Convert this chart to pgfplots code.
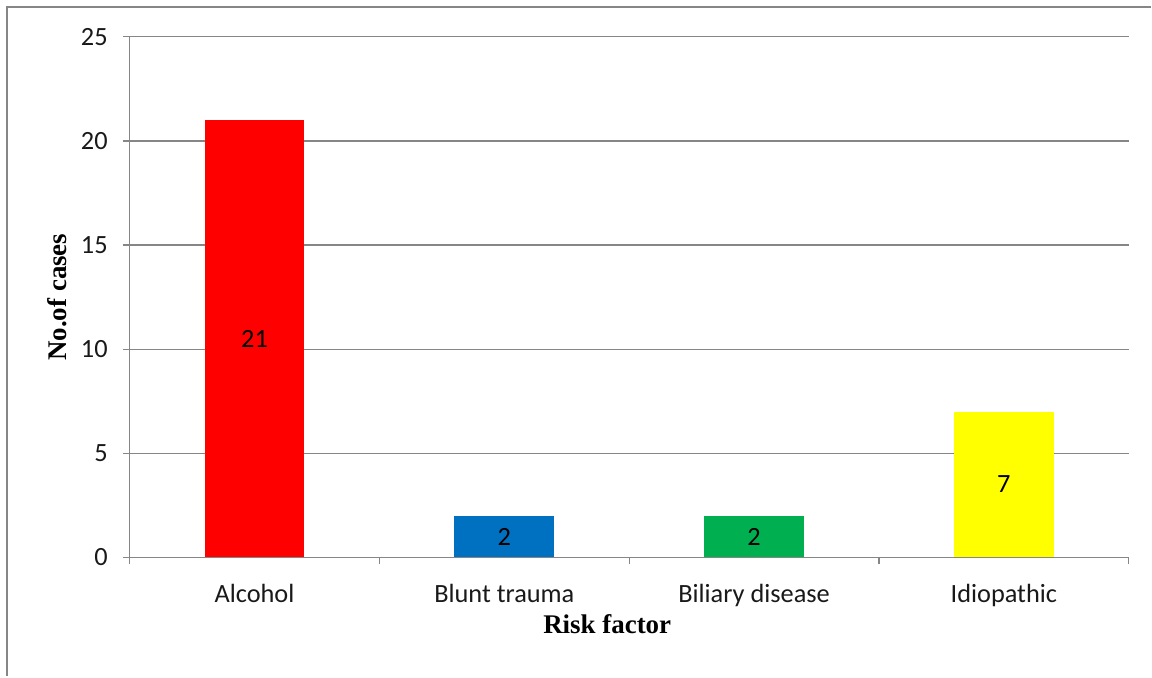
\documentclass[border=0pt]{standalone}
\usepackage{pgfplots}
\pgfplotsset{compat=1.18}
\usepackage{fontspec}
\setmainfont{Carlito}
\newfontfamily\titlefont{Liberation Serif}
\definecolor{axgray}{HTML}{868686}
\definecolor{barred}{HTML}{FF0000}
\definecolor{barblue}{HTML}{0070C0}
\definecolor{bargreen}{HTML}{00B050}
\definecolor{baryellow}{HTML}{FFFF00}
\begin{document}
\begin{tikzpicture}
% outer chart frame (left and top edges) and page extent
\path (-65pt,-59pt) rectangle (511pt,279.5pt);
\draw[axgray, line width=1.3pt] (-61.5pt,-59.5pt) -- (-61.5pt,276pt) -- (512pt,276pt);
\begin{axis}[
  at={(0,0)}, anchor=south west,
  scale only axis, width=501pt, height=261pt,
  xmin=0, xmax=4, ymin=0, ymax=25,
  ytick={0,5,...,25},
  xtick={0.5,1.5,2.5,3.5},
  xticklabels={Alcohol, Blunt trauma, Biliary disease, Idiopathic},
  minor xtick={0,1,2,3,4},
  axis x line*=bottom, axis y line*=left,
  axis line style={axgray, line width=0.6pt, -},
  ymajorgrids, grid style={axgray, line width=0.6pt},
  major tick style={axgray, line width=0.6pt},
  minor tick style={axgray, line width=0.6pt},
  tick align=outside,
  xtick style={draw=none},
  minor x tick style={draw=axgray},
  major tick length=3.5pt, minor tick length=3.5pt,
  tick label style={font=\fontsize{13.2}{15}\selectfont, text=black!90},
  xticklabel style={anchor=base, yshift=-19pt},
  yticklabel style={anchor=east, xshift=-4pt},
  /pgf/number format/assume math mode=true,
  xlabel={\titlefont\bfseries\fontsize{13.5}{16}\selectfont Risk factor},
  xlabel style={at={(axis description cs:0.478,0)}, anchor=base, yshift=-38pt},
  ylabel={\titlefont\bfseries\fontsize{13.5}{16}\selectfont No.of cases},
  ylabel style={at={(axis description cs:0,0.5)}, anchor=center, rotate=0, yshift=36.5pt},
  ybar, bar width=0.4, bar shift=0pt,
  nodes near coords,
  visualization depends on=y \as \rawy,
  every node near coord/.append style={anchor=center, shift={(axis direction cs:0,-\rawy/2)}, font=\fontsize{13.2}{15}\selectfont, text=black},
  clip=false,
]
\addplot[fill=barred, draw=none] coordinates {(0.5,21)};
\addplot[fill=barblue, draw=none] coordinates {(1.5,2)};
\addplot[fill=bargreen, draw=none] coordinates {(2.5,2)};
\addplot[fill=baryellow, draw=none] coordinates {(3.5,7)};
\end{axis}
\end{tikzpicture}
\end{document}
